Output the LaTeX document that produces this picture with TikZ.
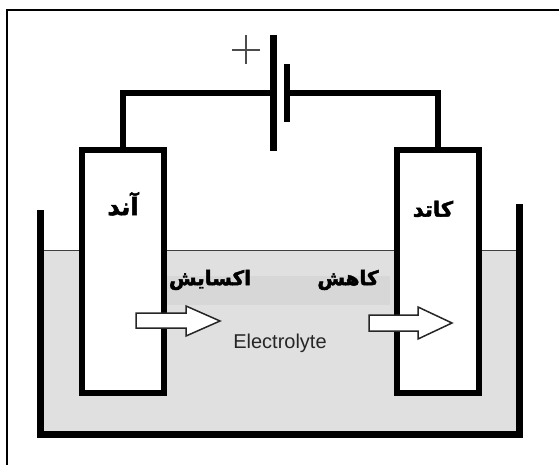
\documentclass[tikz,border=0pt]{standalone}
\usepackage{fontspec}
\setmainfont{Liberation Sans}
\newfontfamily\arabicfont[Script=Arabic,FakeBold=2.2]{DejaVu Sans Bold}
\TeXXeTstate=1
\tikzset{x=1pt,y=-1pt,
 wire/.style={line width=6pt,line cap=butt,line join=miter},
 lbl/.style={inner sep=0pt,font=\arabicfont\fontsize{20}{20}\selectfont},
 arr/.style={draw=black!85,fill=white,line width=1.5pt,line join=miter},
 electrode/.style={draw=black,fill=white,line width=6pt,minimum width=82pt,minimum height=243pt,inner sep=0pt}}
\begin{document}
\begin{tikzpicture}
\useasboundingbox (0,0) rectangle (559,465);
\fill[white] (0,0) rectangle (559,465);
\draw[line width=1.2pt] (7,465) -- (7,10) -- (559,10);
\fill[black!12] (40,250) rectangle (520,434);
\fill[black!15.5] (167,276) rectangle (390,305);
\draw[line width=1pt,black!75] (40,250) -- (520,250);
\draw[line width=7pt,line join=miter] (40.5,210) -- (40.5,434.5) -- (519.5,434.5) -- (519.5,204);
\node[electrode] (anode) at (123,271.5) {};
\node[electrode] (cathode) at (437.5,271.5) {};
\coordinate (bl) at (273,93);
\coordinate (br) at (287,93);
\draw[wire] (anode.north) |- (bl);
\draw[wire] (cathode.north) |- (br);
\draw[line width=6.5pt] (273.5,35) -- (273.5,151);
\draw[line width=6pt] (287,64) -- (287,122);
\draw[line width=1.3pt,black!70] (232,50) -- (260,50) (246,35) -- (246,64);
\node[lbl,font=\arabicfont\fontsize{24}{24}\selectfont] (t1) at (123,204) {\beginR آند\endR};
\node[lbl,font=\arabicfont\fontsize{21}{21}\selectfont] (t2) at (433,209) {\beginR کاتد\endR};
\node[lbl] (t3) at (210,280) {\beginR اکسایش\endR};
\node[lbl] (t4) at (348,280) {\beginR کاهش\endR};
\draw[arr] (136,313) -- (186,313) -- (186,306) -- (220,321) -- (186,336) -- (186,328) -- (136,328) -- cycle;
\draw[arr] (369,315) -- (418,315) -- (418,307) -- (452,323) -- (418,339) -- (418,331) -- (369,331) -- cycle;
\node[inner sep=0pt,font=\fontsize{20}{20}\selectfont,text=black!85] (e) at (280,343) {Electrolyte};
\end{tikzpicture}
\end{document}
